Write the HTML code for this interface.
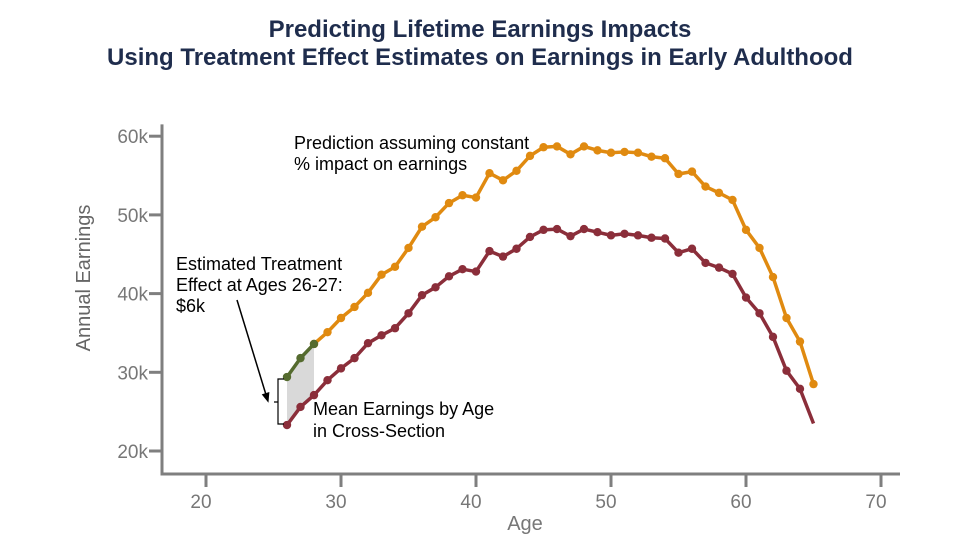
<!DOCTYPE html>
<html><head><meta charset="utf-8"><style>
body{margin:0;background:#fff;}
svg{display:block;font-family:"Liberation Sans",sans-serif;}
</style></head><body>
<svg id="chart" width="960" height="540">
<text x="480" y="37" text-anchor="middle" font-size="24" font-weight="bold" fill="#1f2d4d">Predicting Lifetime Earnings Impacts</text>
<text x="480" y="65" text-anchor="middle" font-size="24" font-weight="bold" fill="#1f2d4d">Using Treatment Effect Estimates on Earnings in Early Adulthood</text>
<text transform="translate(90,278) rotate(-90)" text-anchor="middle" font-size="20" fill="#666">Annual Earnings</text>
<text x="525" y="530" text-anchor="middle" font-size="20" fill="#777">Age</text>
<g id="axes"></g>
<g id="marks"></g>
<text font-size="18" fill="#000"><tspan x="294" y="149">Prediction assuming constant</tspan><tspan x="294" y="170">% impact on earnings</tspan></text>
<text font-size="18" fill="#000"><tspan x="176" y="270">Estimated Treatment</tspan><tspan x="176" y="291">Effect at Ages 26-27:</tspan><tspan x="176" y="312">$6k</tspan></text>
<text font-size="18" fill="#000"><tspan x="313" y="415">Mean Earnings by Age</tspan><tspan x="313" y="437">in Cross-Section</tspan></text>
<line x1="237" y1="300" x2="267" y2="398" stroke="#000" stroke-width="1.5"/>
<polygon points="267,403 263,393 271,393" fill="#000" transform="rotate(-17,267,398)"/>
<path d="M284,379 H278 V424 H284 M278,402 H274" fill="none" stroke="#000" stroke-width="1.2"/>
</svg>
<script>
const ages=[];for(let a=26;a<=65;a++)ages.push(a);
const meanEarnings=[23.3,25.6,27.1,29.0,30.5,31.8,33.7,34.7,35.6,37.5,39.8,40.8,42.2,43.1,42.8,45.4,44.7,45.7,47.2,48.1,48.2,47.3,48.2,47.8,47.4,47.6,47.4,47.1,47.0,45.2,45.7,43.9,43.3,42.5,39.5,37.5,34.5,30.2,27.9,23.5];
const predAges=[28,29,30,31,32,33,34,35,36,37,38,39,40,41,42,43,44,45,46,47,48,49,50,51,52,53,54,55,56,57,58,59,60,61,62,63,64,65];
const predicted=[33.6,35.1,36.9,38.3,40.1,42.4,43.4,45.8,48.5,49.7,51.5,52.5,52.2,55.3,54.4,55.6,57.5,58.6,58.7,57.7,58.7,58.2,57.9,58.0,57.9,57.4,57.2,55.2,55.5,53.6,52.8,51.9,48.1,45.8,42.1,36.9,33.9,28.5];
const treatAges=[26,27,28];
const treated=[29.4,31.8,33.6];
const yTicks=[20,30,40,50,60];
const xTicks=[20,30,40,50,60,70];
const X=a=>206+(a-20)*13.5;
const Y=v=>451-(v-20)*7.87;
const NS='http://www.w3.org/2000/svg';
function mk(tag,attrs,parent){const e=document.createElementNS(NS,tag);for(const k in attrs)e.setAttribute(k,attrs[k]);parent.appendChild(e);return e;}
const axes=document.getElementById('axes'),marks=document.getElementById('marks');
let e=mk('path',{d:'M162,'+(Y(61.5))+' V474 H900',fill:'none',stroke:'#7f7f7f','stroke-width':3},axes);


yTicks.forEach(t=>{
 let l=mk('line',{x1:149,x2:162,y1:Y(t),y2:Y(t),stroke:'#7f7f7f','stroke-width':3},axes);
 
 
 let tx=mk('text',{x:148,y:Y(t)+7,'text-anchor':'end','font-size':19,fill:'#777'},axes);tx.textContent=t+'k';
 
 
});
xTicks.forEach(t=>{
 let l=mk('line',{x1:X(t),x2:X(t),y1:474,y2:487,stroke:'#7f7f7f','stroke-width':3},axes);
 
 
 let tx=mk('text',{x:X(t)-5,y:508,'text-anchor':'middle','font-size':19,fill:'#777'},axes);tx.textContent=t;
 
 
});
let pts=treatAges.map((a,i)=>X(a)+','+Y(treated[i]));
for(let i=treatAges.length-1;i>=0;i--){const j=ages.indexOf(treatAges[i]);pts.push(X(ages[j])+','+Y(meanEarnings[j]));}
e=mk('polygon',{points:pts.join(' '),fill:'#d9d9d9'},marks);


function series(xs,ys,color,name,skipLastMarker){
 let p=mk('polyline',{points:xs.map((a,i)=>X(a)+','+Y(ys[i])).join(' '),fill:'none',stroke:color,'stroke-width':3.5,'stroke-linejoin':'round'},marks);
 
 
 xs.forEach((a,i)=>{
  if(skipLastMarker&&i===xs.length-1)return;
  let c=mk('circle',{cx:X(a),cy:Y(ys[i]),r:4.2,fill:color},marks);
  
  
 });
}
series(predAges,predicted,'#e08a10','predicted-earnings',false);
series(ages,meanEarnings,'#8b2e3a','mean-earnings',true);
series(treatAges,treated,'#556b2f','treated-earnings',false);
</script>
</body></html>
